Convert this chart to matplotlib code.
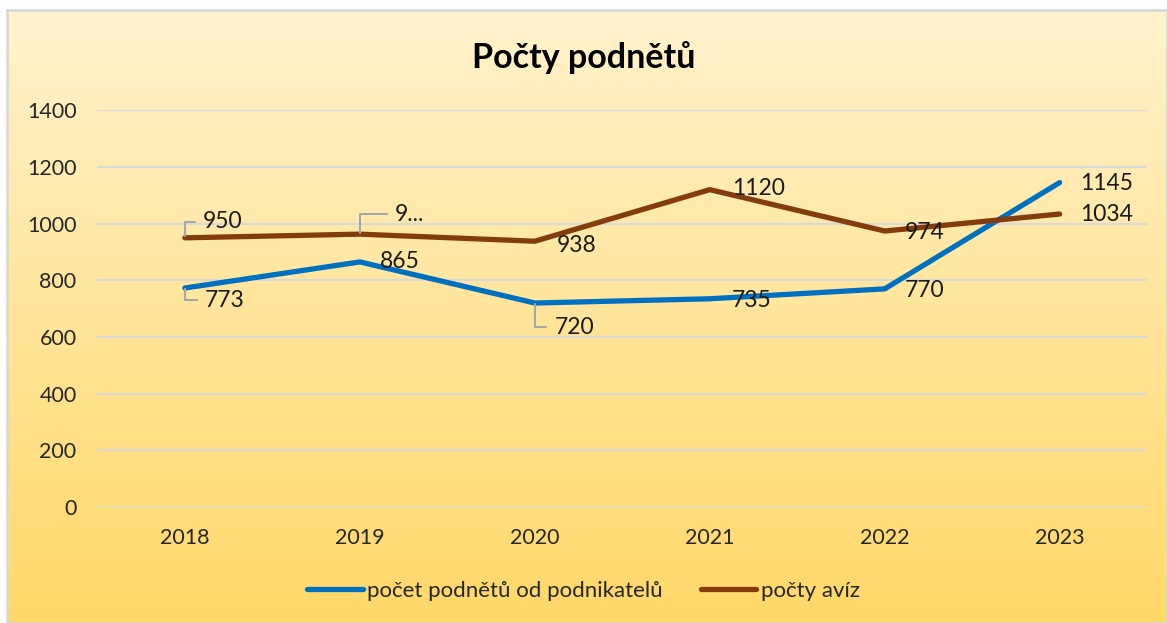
import numpy as np
import matplotlib
matplotlib.use("Agg")
import matplotlib.pyplot as plt

plt.rcParams['font.family'] = ['Lato', 'DejaVu Sans']

# data
years = ["2018", "2019", "2020", "2021", "2022", "2023"]
podnety = [773, 865, 720, 735, 770, 1145]
avize = [950, 963, 938, 1120, 974, 1034]
avize_labels = ["950", "9...", "938", "1120", "974", "1034"]
podnety_labels = [str(v) for v in podnety]

blue = "#0070C0"
brown = "#843C0C"
grid_col = "#D9D9D9"
leader_col = "#A6A6A6"

fig = plt.figure(figsize=(11.67, 6.23), dpi=100)
fig.patch.set_facecolor("white")

# gradient background of the chart area
bg = fig.add_axes([0.006, 0.0, 0.994, 0.984], zorder=-1)
grad = np.linspace(0, 1, 256).reshape(-1, 1)
top = np.array([255, 243, 206]) / 255
bot = np.array([255, 216, 104]) / 255
img = top + (bot - top) * grad[:, :, None]
bg.imshow(img, aspect="auto", extent=[0, 1, 0, 1])
bg.set_xticks([])
bg.set_yticks([])
for s in bg.spines.values():
    s.set_color("#D9D9D9")
    s.set_linewidth(2)

ax = fig.add_axes([0.0835, 0.186, 0.8995, 0.637])
ax.patch.set_alpha(0)
x = np.arange(len(years))

ax.plot(x, podnety, color=blue, lw=3.8, solid_capstyle="round", zorder=3,
        label="počet podnětů od podnikatelů")
ax.plot(x, avize, color=brown, lw=3.8, solid_capstyle="round", zorder=3,
        label="počty avíz")

ax.set_ylim(0, 1400)
ax.set_xlim(-0.5, len(years) - 0.5)
ax.set_yticks(range(0, 1401, 200))
ax.set_xticks(x)
ax.set_xticklabels(years)
ax.grid(axis="y", color=grid_col, lw=1.5)
ax.set_axisbelow(True)
for s in ax.spines.values():
    s.set_visible(False)
ax.tick_params(length=0, labelsize=15.5, colors="#262626")
ax.tick_params(axis="y", pad=15)
ax.tick_params(axis="x", pad=15)

# data labels: offsets in pixels, leader flag
blue_off = [(20, -12, True), (20, 0, False), (20, -24, True),
            (22, -2, False), (20, -2, False), (20, -1, False)]
brown_off = [(18, 16, True), (35, 20, True), (22, -4, False),
             (22, 1, False), (20, -1, False), (20, 0, False)]


def put_labels(vals, texts, offs):
    for i, (v, t, (dx, dy, lead)) in enumerate(zip(vals, texts, offs)):
        arrow = None
        if lead:
            arrow = dict(arrowstyle="-", color=leader_col, lw=1.5,
                         connectionstyle="angle,angleA=0,angleB=90,rad=0",
                         shrinkA=4, shrinkB=1)
        ax.annotate(t, (x[i], v), xytext=(dx, dy), textcoords="offset pixels",
                    ha="left", va="center", fontsize=16.5, color="#1a1a1a",
                    arrowprops=arrow, zorder=4)


put_labels(podnety, podnety_labels, blue_off)
put_labels(avize, avize_labels, brown_off)

fig.text(0.5, 0.907, "Počty podnětů", ha="center", va="center",
         fontsize=24.5, fontweight="bold", color="black")

leg = fig.legend(loc="center", bbox_to_anchor=(0.5, 0.052), ncol=2,
                 frameon=False, fontsize=16, handlelength=2.5,
                 handletextpad=0.2, columnspacing=1.7)
for t in leg.get_texts():
    t.set_color("#262626")

fig.savefig("out.png", dpi=100)
